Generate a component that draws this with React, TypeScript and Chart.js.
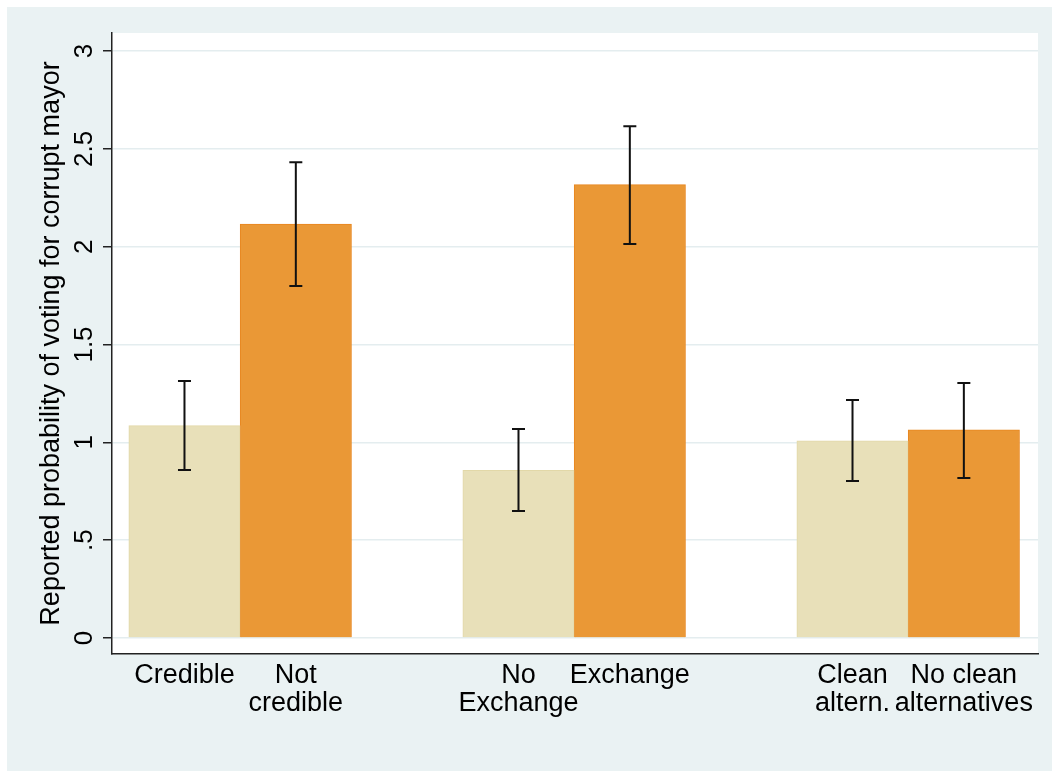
import React, { useEffect, useRef } from 'react';
import { Chart, registerables } from 'chart.js';

Chart.register(...registerables);

// ---- Data ----
const categories: string[][] = [
  ['Credible'],
  ['Not', 'credible'],
  ['No', 'Exchange'],
  ['Exchange'],
  ['Clean', 'altern.'],
  ['No clean', 'alternatives'],
];
const positions = [0, 1, 3, 4, 6, 7];
const means = [1.085, 2.115, 0.857, 2.317, 1.008, 1.064];
const lower = [0.858, 1.799, 0.649, 2.013, 0.802, 0.818];
const upper = [1.313, 2.432, 1.068, 2.616, 1.216, 1.303];
const baselineIdx = [0, 2, 4];
const treatmentIdx = [1, 3, 5];
const yTicks = [0, 0.5, 1, 1.5, 2, 2.5, 3];
const yTickLabels = ['0', '.5', '1', '1.5', '2', '2.5', '3'];
const yTitle = 'Reported probability of voting for corrupt mayor';

const FONT = "'Liberation Sans', Arial, Helvetica, sans-serif";
const OUTER_BG = '#eaf2f3';
const GRID = '#e4edef';
const AXIS = '#222222';

const bgPlugin = {
  id: 'bgPlugin',
  beforeDraw(chart: any) {
    const { ctx, chartArea, width, height } = chart;
    ctx.save();
    ctx.fillStyle = OUTER_BG;
    ctx.fillRect(0, 0, width, height);
    ctx.fillStyle = '#ffffff';
    ctx.fillRect(chartArea.left, chartArea.top, chartArea.right - chartArea.left, chartArea.bottom - chartArea.top);
    ctx.restore();
  },
};

const errorBarPlugin = {
  id: 'errorBarPlugin',
  afterDatasetsDraw(chart: any) {
    const { ctx } = chart;
    const xs = chart.scales.x;
    const ys = chart.scales.y;
    ctx.save();
    ctx.strokeStyle = '#111111';
    ctx.lineWidth = 2;
    positions.forEach((p, i) => {
      const x = xs.getPixelForValue(p);
      const yt = ys.getPixelForValue(upper[i]);
      const yb = ys.getPixelForValue(lower[i]);
      ctx.beginPath();
      ctx.moveTo(x, yt);
      ctx.lineTo(x, yb);
      ctx.moveTo(x - 6.5, yt);
      ctx.lineTo(x + 6.5, yt);
      ctx.moveTo(x - 6.5, yb);
      ctx.lineTo(x + 6.5, yb);
      ctx.stroke();
    });
    ctx.restore();
  },
};

const yLabelPlugin = {
  id: 'yLabelPlugin',
  afterDraw(chart: any) {
    const { ctx } = chart;
    const ys = chart.scales.y;
    ctx.save();
    ctx.fillStyle = '#000000';
    ctx.font = `26px ${FONT}`;
    ctx.textAlign = 'center';
    ctx.textBaseline = 'alphabetic';
    yTicks.forEach((v, i) => {
      const y = ys.getPixelForValue(v);
      ctx.save();
      ctx.translate(85, y);
      ctx.rotate(-Math.PI / 2);
      ctx.fillText(yTickLabels[i], 0, 0);
      ctx.restore();
    });
    ctx.restore();
  },
};

export default function App() {
  const ref = useRef<HTMLCanvasElement | null>(null);

  useEffect(() => {
    if (!ref.current) return;
    const chart = new Chart(ref.current, {
      type: 'bar',
      data: {
        datasets: [
          {
            label: 'Baseline',
            data: baselineIdx.map((i) => ({ x: positions[i], y: means[i] })),
            backgroundColor: '#e8e0b9',
            borderColor: '#e2d8a8',
            borderWidth: 1,
            grouped: false,
            barPercentage: 1,
            categoryPercentage: 1,
          } as any,
          {
            label: 'Treatment',
            data: treatmentIdx.map((i) => ({ x: positions[i], y: means[i] })),
            backgroundColor: '#ea9836',
            borderColor: '#e8861f',
            borderWidth: 1,
            grouped: false,
            barPercentage: 1,
            categoryPercentage: 1,
          } as any,
        ],
      },
      options: {
        animation: false,
        responsive: false,
        devicePixelRatio: 1,
        layout: { padding: { left: 0, top: 26, right: 14, bottom: 0 } },
        plugins: {
          legend: { display: false },
          tooltip: { enabled: false },
        },
        scales: {
          x: {
            type: 'linear',
            offset: false,
            min: -0.651,
            max: 7.666,
            afterBuildTicks: (scale: any) => {
              scale.ticks = positions.map((v) => ({ value: v }));
            },
            afterFit: (scale: any) => {
              scale.height = 117;
            },
            grid: { display: false, offset: false, drawTicks: false, drawOnChartArea: false },
            border: { display: true, color: AXIS, width: 1.5 },
            ticks: {
              autoSkip: false,
              maxRotation: 0,
              minRotation: 0,
              padding: 7,
              color: '#000000',
              font: { family: FONT, size: 27, lineHeight: 1.05 },
              callback: (value: any) => {
                const i = positions.indexOf(Number(value));
                return i >= 0 ? categories[i] : '';
              },
            },
          },
          y: {
            type: 'linear',
            min: -0.0818,
            max: 3.092,
            afterBuildTicks: (scale: any) => {
              scale.ticks = yTicks.map((v) => ({ value: v }));
            },
            afterFit: (scale: any) => {
              scale.width = 105;
            },
            grid: {
              display: true,
              color: GRID,
              lineWidth: 1.5,
              drawTicks: true,
              tickLength: 9,
              tickColor: AXIS,
              tickWidth: 1.5,
            },
            border: { display: true, color: AXIS, width: 1.5 },
            ticks: { display: false },
            title: {
              display: true,
              text: yTitle,
              color: '#000000',
              font: { family: FONT, size: 27, lineHeight: 1.2 },
              padding: { top: 28, bottom: 0 },
            },
          },
        },
      } as any,
      plugins: [bgPlugin, errorBarPlugin, yLabelPlugin],
    });
    return () => chart.destroy();
  }, []);

  return (
    <div style={{ position: 'absolute', left: 7, top: 7, width: 1045, height: 764 }}>
      <canvas ref={ref} width={1045} height={764} style={{ display: 'block', width: 1045, height: 764 }} />
    </div>
  );
}
